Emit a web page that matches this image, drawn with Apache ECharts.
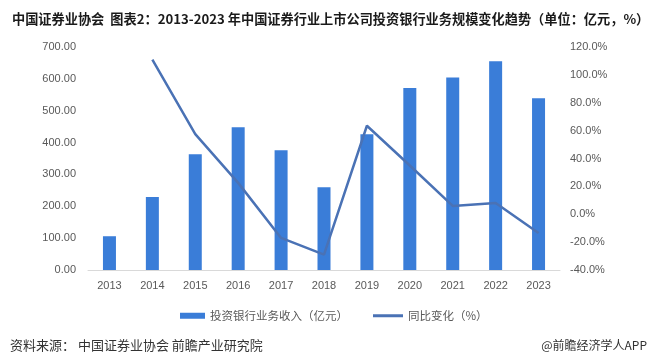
<!DOCTYPE html>
<html>
<head>
<meta charset="utf-8">
<script src="https://cdn.jsdelivr.net/npm/echarts@6/dist/echarts.min.js"></script>
<style>
html,body{margin:0;padding:0;background:#fff;}
#c{width:657px;height:355px;}
</style>
</head>
<body>
<div id="c"></div>
<script>
const years = ['2013','2014','2015','2016','2017','2018','2019','2020','2021','2022','2023'];
const revenue = [106, 229, 363, 448, 376, 260, 426, 571, 604, 655, 539];
const yoy = [null, 111, 57.5, 22.5, -17, -29, 63.5, 35, 6, 8, -13.5];
const leftTicks = {min: 0, max: 700, interval: 100};
const rightTicks = {min: -40, max: 120, interval: 20};
const titleText = '中国证券业协会  图表2：2013-2023 年中国证券行业上市公司投资银行业务规模变化趋势（单位：亿元，%）';
const barName = '投资银行业务收入（亿元）';
const lineName = '同比变化（%）';
const sourceText = '资料来源： 中国证券业协会 前瞻产业研究院';
const brandText = '@前瞻经济学人APP';

const chart = echarts.init(document.getElementById('c'), null, {renderer: 'canvas'});
const axisFont = {fontFamily: '"Liberation Sans", Arial, sans-serif', fontSize: 11, color: '#595959'};
const legendFont = {fontFamily: '"Noto Sans CJK SC", sans-serif', fontSize: 11.5, color: '#595959'};
chart.setOption({
  animation: false,
  backgroundColor: '#fff',
  title: [
    {text: titleText, left: 7, top: 7,
     textStyle: {fontFamily: '"Noto Sans CJK SC", sans-serif', fontSize: 13.2, fontWeight: 'bold', color: '#1a1a1a'}},
    {text: sourceText, left: 5, top: 334,
     textStyle: {fontFamily: '"Noto Sans CJK SC", sans-serif', fontSize: 13, fontWeight: 'normal', color: '#333'}},
    {text: brandText, right: 5, top: 334,
     textStyle: {fontFamily: '"Noto Sans CJK SC", sans-serif', fontSize: 12, fontWeight: 'normal', color: '#333'}}
  ],
  legend: [
    {left: 175, top: 305, itemWidth: 25, itemHeight: 6, textStyle: legendFont,
     data: [{name: barName, icon: 'rect'}]},
    {left: 368, top: 305, itemWidth: 30, itemHeight: 3, textStyle: legendFont,
     data: [{name: lineName, icon: 'rect'}]}
  ],
  grid: {left: 88, right: 97, top: 47, bottom: 85},
  xAxis: {
    type: 'category', data: years,
    axisLine: {lineStyle: {color: '#d9d9d9', width: 1}},
    axisTick: {show: false},
    axisLabel: Object.assign({margin: 10}, axisFont)
  },
  yAxis: [
    {type: 'value', min: leftTicks.min, max: leftTicks.max, interval: leftTicks.interval,
     splitLine: {show: false}, axisLine: {show: false}, axisTick: {show: false},
     axisLabel: Object.assign({margin: 12, formatter: v => v.toFixed(2)}, axisFont)},
    {type: 'value', min: rightTicks.min, max: rightTicks.max, interval: rightTicks.interval,
     splitLine: {show: false}, axisLine: {show: false}, axisTick: {show: false},
     axisLabel: Object.assign({margin: 10, formatter: v => v.toFixed(1) + '%'}, axisFont)}
  ],
  series: [
    {name: barName, type: 'bar', data: revenue, yAxisIndex: 0, barWidth: 13,
     itemStyle: {color: '#3a7dd8'}},
    {name: lineName, type: 'line', data: yoy, yAxisIndex: 1, symbol: 'none',
     lineStyle: {color: '#4a72b5', width: 2.5}, itemStyle: {color: '#4a72b5'}}
  ]
});
</script>
</body>
</html>
